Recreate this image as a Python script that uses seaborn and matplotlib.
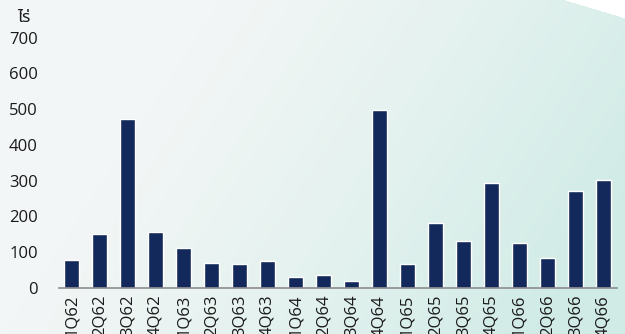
import numpy as np
import pandas as pd
import matplotlib
matplotlib.use("Agg")
import matplotlib.pyplot as plt
from matplotlib.colors import LinearSegmentedColormap
import seaborn as sns

quarters = ["1Q62", "2Q62", "3Q62", "4Q62", "1Q63", "2Q63", "3Q63", "4Q63",
            "1Q64", "2Q64", "3Q64", "4Q64", "1Q65", "2Q65", "3Q65", "4Q65",
            "1Q66", "2Q66", "3Q66", "4Q66"]
rai = [78, 152, 474, 157, 113, 71, 68, 74,
       30, 35, 19, 497, 68, 181, 131, 293,
       127, 84, 270, 301]
y_ticks = [0, 100, 200, 300, 400, 500, 600, 700]
unit_label = "ไร่"

df = pd.DataFrame({"quarter": quarters, "rai": rai})

sns.set_theme(style="white")
plt.rcParams["font.family"] = ["Open Sans", "DejaVu Sans"]

fig = plt.figure(figsize=(6.25, 3.34), dpi=100)

# soft background wash: pale grey on the left fading to light teal on the right
bg = fig.add_axes([0, 0, 1, 1], zorder=0)
h, w = 334, 625
yy, xx = np.mgrid[0:h, 0:w]
t = np.clip((xx / w) * 1.15 + (yy / h) * 0.4 - 0.4, 0, 1)
cmap = LinearSegmentedColormap.from_list("wash", ["#f3f6f6", "#e4f2ef", "#d0ebe6"])
img = cmap(t)
corner = (yy < (xx - 565) * 0.3)
img[corner] = [1, 1, 1, 1]
bg.imshow(img, aspect="auto", extent=[0, 1, 0, 1], origin="upper")
bg.set_axis_off()

ax = fig.add_axes([0.094, 0.138, 0.893, 0.749], zorder=1)
ax.patch.set_alpha(0)
sns.barplot(data=df, x="quarter", y="rai", color="#13295b", width=0.54,
            saturation=1, ax=ax)
ax.set_ylim(0, 700)
ax.set_xlim(-0.46, len(quarters) - 1 + 0.48)
ax.set_yticks(y_ticks)
ax.set_xlabel("")
ax.set_ylabel("")
for s in ["top", "right", "left"]:
    ax.spines[s].set_visible(False)
ax.spines["bottom"].set_color("#8c8c8c")
ax.spines["bottom"].set_linewidth(1.2)
ax.tick_params(axis="y", labelsize=12, colors="#1a1a1a", length=0, pad=15)
ax.tick_params(axis="x", labelsize=12, colors="#1a1a1a", length=0, rotation=90, pad=5)

fig.text(0.027, 0.935, unit_label, fontsize=12,
         family=["Noto Sans Thai", "Noto Serif Thai", "Loma", "Garuda", "Tlwg Typo",
                 "Kinnari", "Norasi", "FreeSans", "DejaVu Sans"],
         color="#1a1a1a")

fig.savefig("out.png", dpi=100)
